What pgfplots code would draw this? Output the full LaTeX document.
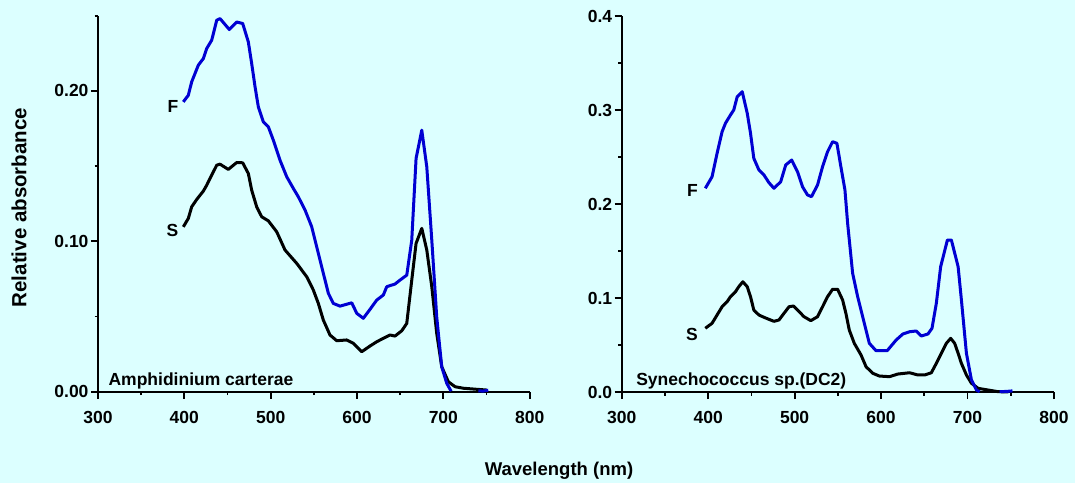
\documentclass[border=0pt]{standalone}
\usepackage{fontspec}
\setmainfont{Liberation Sans}
\usepackage{pgfplots}
\pgfplotsset{compat=1.18}
\definecolor{bgc}{RGB}{220,255,255}
\definecolor{cblue}{RGB}{0,0,210}
\pgfplotsset{
  panel/.style={
    scale only axis,
    axis x line*=bottom, axis y line*=left,
    axis line style={black, line width=1.8pt, -},
    xmin=300, xmax=800,
    xtick={300,400,...,800}, minor x tick num=1,
    tick align=outside,
    major tick length=7pt, minor tick length=3.5pt,
    every tick/.style={black, line width=1.8pt},
    clip=false,
    /pgf/number format/assume math mode=true,
    ticklabel style={font=\fontsize{17.5}{20}\selectfont\bfseries},
    xticklabel style={/pgf/number format/1000 sep={}, yshift=-9pt},
    yticklabel style={xshift=1pt},
    scaled y ticks=false,
  },
  curveF/.style={cblue, line width=3pt, line join=round, no marks},
  curveS/.style={black, line width=3pt, line join=round, no marks},
}
\begin{document}
\begin{tikzpicture}[x=1pt,y=1pt]
\fill[bgc] (0,0) rectangle (1075,483);
% ---------------- left panel ----------------
\begin{axis}[panel,
  at={(98pt,91.3pt)}, anchor=south west,
  width=431.7pt, height=376pt,
  ymin=0, ymax=0.25,
  ytick={0,0.1,0.2}, minor ytick={0.05,0.15,0.25},
  yticklabel style={/pgf/number format/fixed, /pgf/number format/fixed zerofill, /pgf/number format/precision=2},
]
\addplot[curveS] coordinates {
(398.8,0.1096)(404.6,0.1152)(408.5,0.1229)(414.3,0.1278)(422,0.1334)(425.9,0.1373)
(431.7,0.1440)(437.5,0.1506)(441.3,0.1513)(450.9,0.1478)(460.7,0.1524)(467.6,0.1522)
(474.1,0.1451)(478,0.1340)(483.8,0.1229)(489.6,0.1163)(497.3,0.1136)(507,0.1063)
(516.6,0.0942)(530.2,0.0853)(541.8,0.0764)(549.4,0.0676)(555.2,0.0587)(561,0.0476)
(568.7,0.0377)(576.5,0.0339)(588.1,0.0344)(595.7,0.0322)(605.5,0.0266)(615.1,0.0304)
(622.8,0.0332)(630.5,0.0355)(638.2,0.0377)(644,0.0370)(651.8,0.0405)(657.6,0.0454)
(663.4,0.0742)(668.4,0.0986)(675,0.1086)(680.8,0.0942)(686.6,0.0698)(692.3,0.0388)
(698.1,0.0166)(705.8,0.0066)(713.6,0.0033)(723.2,0.0023)(738.7,0.0016)(750.3,0.0011)
};
\addplot[curveF] coordinates {
(398.8,0.1927)(404.6,0.1971)(408.5,0.2060)(416.2,0.2171)(422,0.2215)(425.9,0.2282)
(431.7,0.2337)(437.5,0.2470)(441.3,0.2481)(452.1,0.2408)(460.7,0.2458)(467.6,0.2448)
(474.1,0.2326)(478,0.2182)(481.9,0.2027)(485.7,0.1894)(491.5,0.1794)(497.3,0.1761)
(503.1,0.1672)(510.8,0.1539)(518.6,0.1429)(526.2,0.1352)(532,0.1296)(539.8,0.1208)
(547.5,0.1097)(555.2,0.0920)(561,0.0787)(566.8,0.0654)(572.6,0.0587)(580.3,0.0569)
(593.9,0.0591)(599.7,0.0521)(607.3,0.0488)(615.1,0.0548)(622.8,0.0609)(630.5,0.0643)
(634.4,0.0698)(644,0.0716)(649.8,0.0742)(657.6,0.0775)(663.4,0.1008)(668.4,0.1551)
(675,0.1739)(680.8,0.1495)(686.6,0.1008)(692.3,0.0498)(698.1,0.0166)(703.9,0.0056)
(709,0.0003)
};
\addplot[curveF] coordinates {(740.5,0.0006)(746,0.0004)(752,0.0010)};
\node[anchor=base east, font=\fontsize{17.5}{20}\selectfont\bfseries] at (axis cs:397,0.1854) {F};
\node[anchor=base east, font=\fontsize{17.5}{20}\selectfont\bfseries] at (axis cs:397,0.1035) {S};
\node[anchor=base west, inner sep=0pt, font=\fontsize{17.5}{20}\selectfont\bfseries] at (axis cs:312,0.004) {Amphidinium carterae};
\end{axis}
% ---------------- right panel ----------------
\begin{axis}[panel,
  at={(621.7pt,91pt)}, anchor=south west,
  width=432.3pt, height=376pt,
  ymin=0, ymax=0.4,
  ytick={0,0.1,0.2,0.3,0.4}, minor ytick={0.05,0.15,0.25,0.35},
  yticklabel style={/pgf/number format/fixed, /pgf/number format/fixed zerofill, /pgf/number format/precision=1},
]
\addplot[curveS] coordinates {
(396.7,0.0678)(404.5,0.0731)(410.3,0.0819)(416.1,0.0907)(422,0.0961)(425.8,0.1014)
(431.6,0.1067)(435.4,0.1120)(440.1,0.1173)(445.2,0.1120)(449,0.1014)(452.8,0.0872)
(458.7,0.0819)(464.5,0.0795)(470.3,0.0773)(476.1,0.0752)(481.9,0.0766)(487.7,0.0837)
(493.5,0.0907)(498.6,0.0915)(503.3,0.0872)(510.9,0.0801)(518.7,0.0759)(526.5,0.0801)
(532.3,0.0907)(538.1,0.1014)(543.9,0.1093)(549.7,0.1093)(555.5,0.0979)(559.3,0.0837)
(563.2,0.0660)(569,0.0518)(576.8,0.0394)(582.6,0.0269)(590.4,0.0199)(598,0.0170)
(609.6,0.0163)(619.4,0.0191)(632.9,0.0205)(642.6,0.0181)(650.3,0.0181)(658.1,0.0205)
(663.9,0.0305)(669.7,0.0412)(675.5,0.0518)(680.5,0.0571)(685.1,0.0518)(689.1,0.0412)
(692.9,0.0305)(698.7,0.0181)(704.5,0.0093)(712.3,0.0039)(723.9,0.0021)(735.5,0.0003)
(747.1,0.0002)
};
\addplot[curveF] coordinates {
(396.7,0.2167)(404.5,0.2290)(410.3,0.2539)(416.1,0.2769)(420,0.2859)(425.8,0.2947)
(429.6,0.3000)(433.6,0.3141)(439.4,0.3195)(445.2,0.2965)(449,0.2752)(452.8,0.2486)
(458.7,0.2362)(464.5,0.2309)(470.3,0.2227)(476.1,0.2167)(483.9,0.2237)(489.7,0.2415)
(496.6,0.2468)(503.3,0.2344)(509.1,0.2184)(514.9,0.2096)(519.5,0.2078)(526.5,0.2202)
(532.3,0.2397)(538.1,0.2556)(543.9,0.2663)(548.9,0.2646)(553.5,0.2397)(558.2,0.2149)
(561.3,0.1795)(567.1,0.1263)(572.9,0.1014)(580.6,0.0731)(586.4,0.0518)(594.2,0.0439)
(607,0.0439)(617.4,0.0553)(625.2,0.0617)(632.9,0.0641)(640.6,0.0649)(646.5,0.0596)
(654.2,0.0617)(658.9,0.0678)(663.9,0.0944)(668.9,0.1333)(676.7,0.1617)(681.3,0.1617)
(689.1,0.1333)(692.9,0.0979)(698.7,0.0412)(704.5,0.0128)(710.3,0.0021)(714,0.0003)
};
\addplot[curveF] coordinates {(737,0.0004)(745,0.0006)(752,0.0012)};
\node[anchor=base east, font=\fontsize{17.5}{20}\selectfont\bfseries] at (axis cs:392,0.2078) {F};
\node[anchor=base east, font=\fontsize{17.5}{20}\selectfont\bfseries] at (axis cs:392,0.0553) {S};
\node[anchor=base west, inner sep=0pt, font=\fontsize{17.5}{20}\selectfont\bfseries] at (axis cs:316.6,0.0067) {Synechococcus sp.(DC2)};
\end{axis}
% ---------------- shared labels ----------------
\node[rotate=90, anchor=center, inner sep=0pt, font=\fontsize{20.5}{24}\selectfont\bfseries] at (19,275.5) {Relative absorbance};
\node[anchor=base, inner sep=0pt, font=\fontsize{18.5}{22}\selectfont\bfseries] at (559,8) {Wavelength (nm)};
\pgfresetboundingbox
\path[use as bounding box] (0,0) rectangle (1075,483);
\end{tikzpicture}
\end{document}
